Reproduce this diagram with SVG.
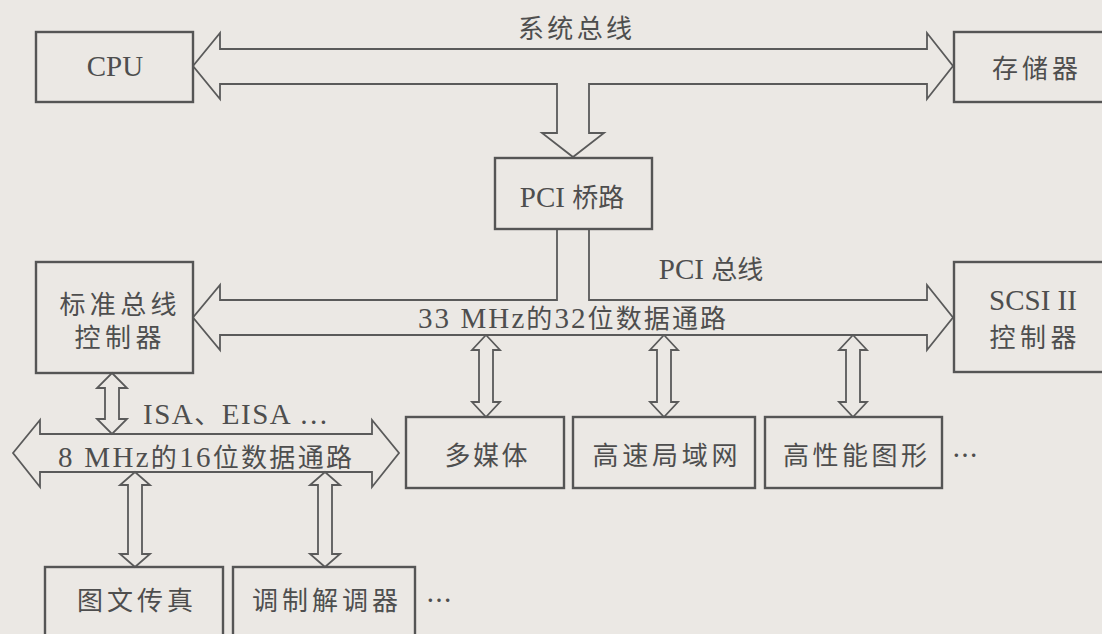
<svg xmlns="http://www.w3.org/2000/svg" width="1102" height="634" viewBox="0 0 1102 634">
<style>
.bg{fill:#ebe8e4}
.box{fill:none;stroke:#555;stroke-width:2.4}
.ar{fill:none;stroke:#5a5a5a;stroke-width:1.8;stroke-linejoin:miter}
text{font-family:"Liberation Serif","Noto Sans CJK SC",serif;font-size:26px;fill:#4e4e4e;text-anchor:middle}
.l{font-size:29px}
.dots{font-family:"Noto Sans CJK SC",sans-serif}
</style>
<rect class="bg" x="0" y="0" width="1102" height="634"/>
<g id="connectors">
<path id="system-bus" class="ar" d="M193,66 L220,33 V49 H927 V33 L953,66 L927,99 V84 H589 V133 H604 L573,157 L542,133 H557 V84 H220 V99 Z"/>
<path id="pci-bus" class="ar" d="M557,229 V300 H220 V285 L193,317.5 L220,350 V335 H927 V350 L953,317.5 L927,285 V300 H589 V229"/>
<path id="isa-bus" class="ar" d="M13,453 L40,420 V434 H372 V420 L399,453 L372,487 V472 H40 V487 Z"/>
<path id="a-std-isa" class="ar" d="M112,373 L127,388 H119 V419 H127 L112,434 L97,419 H105 V388 H97 Z"/>
<path id="a-mm" class="ar" d="M486,335 L500,350 H493 V402 H500 L486,417 L472,402 H479 V350 H472 Z"/>
<path id="a-lan" class="ar" d="M664,335 L678,350 H671 V402 H678 L664,417 L650,402 H657 V350 H650 Z"/>
<path id="a-gfx" class="ar" d="M853,335 L867,350 H860 V402 H867 L853,417 L839,402 H846 V350 H839 Z"/>
<path id="a-fax" class="ar" d="M135,472 L150,485 H142 V554 H150 L135,567 L120,554 H128 V485 H120 Z"/>
<path id="a-modem" class="ar" d="M325,472 L340,485 H332 V554 H340 L325,567 L310,554 H318 V485 H310 Z"/>
<text x="575" y="38" textLength="114" lengthAdjust="spacing">系统总线</text>
<text x="711" y="279"><tspan class="l">PCI </tspan>总线</text>
<text x="572" y="328" textLength="308" lengthAdjust="spacing"><tspan class="l">33 MHz</tspan>的<tspan class="l">32</tspan>位数据通路</text>
<text x="205" y="467" textLength="294" lengthAdjust="spacing"><tspan class="l">8 MHz</tspan>的<tspan class="l">16</tspan>位数据通路</text>
<text x="235" y="424" textLength="184" lengthAdjust="spacing"><tspan class="l">ISA</tspan>、<tspan class="l">EISA </tspan><tspan class="dots">…</tspan></text>
</g>
<g id="cpu"><rect class="box" x="36" y="32" width="157" height="70"/><text class="l" x="115" y="76">CPU</text></g>
<g id="memory"><rect class="box" x="954" y="32" width="152" height="70"/><text x="1035" y="78" textLength="86" lengthAdjust="spacing">存储器</text></g>
<g id="pci-bridge"><rect class="box" x="495" y="158" width="157" height="71"/><text x="572" y="207"><tspan class="l">PCI </tspan>桥路</text></g>
<g id="std-bus-ctrl"><rect class="box" x="36" y="262" width="157" height="111"/><text x="118" y="314" textLength="117" lengthAdjust="spacing">标准总线</text><text x="118" y="347" textLength="87" lengthAdjust="spacing">控制器</text></g>
<g id="scsi-ctrl"><rect class="box" x="954" y="262" width="152" height="110"/><text class="l" x="1033" y="310">SCSI II</text><text x="1033" y="347" textLength="87" lengthAdjust="spacing">控制器</text></g>
<g id="multimedia"><rect class="box" x="406" y="417" width="158" height="71"/><text x="486" y="465" textLength="83" lengthAdjust="spacing">多媒体</text></g>
<g id="lan"><rect class="box" x="573" y="417" width="182" height="71"/><text x="665" y="465" textLength="145" lengthAdjust="spacing">高速局域网</text></g>
<g id="graphics"><rect class="box" x="765" y="417" width="177" height="71"/><text x="855" y="465" textLength="144" lengthAdjust="spacing">高性能图形</text><text class="dots" x="965" y="465">…</text></g>
<g id="fax"><rect class="box" x="45" y="567" width="178" height="80"/><text x="135" y="610" textLength="116" lengthAdjust="spacing">图文传真</text></g>
<g id="modem"><rect class="box" x="233" y="567" width="182" height="80"/><text x="325" y="610" textLength="146" lengthAdjust="spacing">调制解调器</text><text class="dots" x="439" y="610">…</text></g>
</svg>
